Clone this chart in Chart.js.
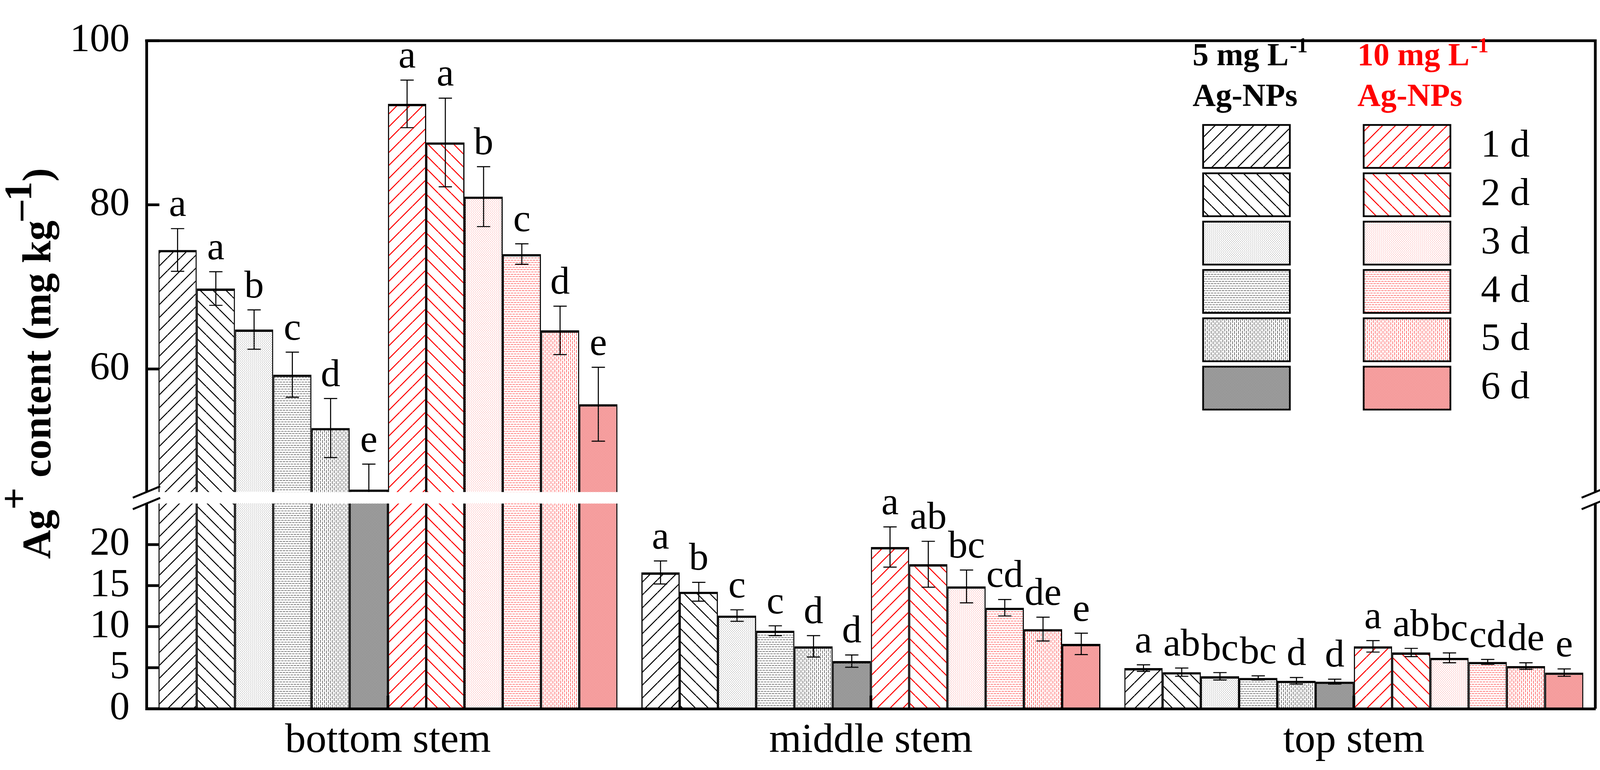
<!DOCTYPE html>
<html>
<head>
<meta charset="utf-8">
<script src="https://cdn.jsdelivr.net/npm/chart.js@4/dist/chart.umd.min.js"></script>
<style>
html,body{margin:0;padding:0;background:#fff;overflow:hidden}
canvas{display:block}
</style>
</head>
<body>
<canvas id="c" width="4099" height="1972"></canvas>
<script>
// ---------------- data ----------------
const categories = ['bottom stem', 'middle stem', 'top stem'];
const days = ['1 d', '2 d', '3 d', '4 d', '5 d', '6 d'];

// 5 mg L-1 Ag-NPs: one row per day, values for [bottom, middle, top]
const mean5mg = [
  [74.5, 16.6, 4.95],
  [69.8, 14.25, 4.45],
  [64.8, 11.35, 3.95],
  [59.3, 9.5, 3.75],
  [52.8, 7.6, 3.4],
  [45.3, 5.8, 3.3]
];
const err5mg = [
  [2.6, 1.4, 0.4],
  [2.05, 1.15, 0.5],
  [2.4, 0.7, 0.45],
  [2.75, 0.6, 0.25],
  [3.6, 1.3, 0.4],
  [3.1, 0.75, 0.3]
];
const sig5mg = [
  ['a', 'a', 'a'],
  ['a', 'b', 'ab'],
  ['b', 'c', 'bc'],
  ['c', 'c', 'bc'],
  ['d', 'd', 'd'],
  ['e', 'd', 'd']
];

// 10 mg L-1 Ag-NPs
const mean10mg = [
  [92.3, 19.7, 7.6],
  [87.6, 17.6, 6.85],
  [81.0, 14.9, 6.2],
  [74.0, 12.3, 5.7],
  [64.7, 9.7, 5.2],
  [55.7, 7.9, 4.4]
];
const err10mg = [
  [2.9, 2.45, 0.7],
  [5.4, 2.8, 0.5],
  [3.65, 2.0, 0.6],
  [1.25, 1.0, 0.3],
  [2.95, 1.45, 0.4],
  [4.5, 1.3, 0.45]
];
const sig10mg = [
  ['a', 'a', 'a'],
  ['a', 'ab', 'ab'],
  ['b', 'bc', 'bc'],
  ['c', 'cd', 'cd'],
  ['d', 'de', 'de'],
  ['e', 'e', 'e']
];

const yTicksUpper = [60, 80, 100];
const yTicksLower = [0, 5, 10, 15, 20];
const upperRange = [44.3, 100];
const lowerRange = [0, 25.7];
const breakRange = [25, 45];

const yTitleParts = ['Ag', '+', ' content (mg kg', '\u20131', ')'];
const legendHead5 = ['5 mg L', '-1', 'Ag-NPs'];
const legendHead10 = ['10 mg L', '-1', 'Ag-NPs'];

// ---------------- styles ----------------
const FONT = '"Liberation Serif", "Times New Roman", serif';
Chart.defaults.font.family = FONT;
const canvas = document.getElementById('c');
const ctx0 = canvas.getContext('2d');

function tile(w, h, painter) {
  const c = document.createElement('canvas');
  c.width = w; c.height = h;
  const g = c.getContext('2d');
  g.fillStyle = '#fff'; g.fillRect(0, 0, w, h);
  painter(g);
  return ctx0.createPattern(c, 'repeat');
}
function hatch(col, dir) {
  return tile(33, 33, g => {
    g.strokeStyle = col; g.lineWidth = 2.6;
    for (const k of [-33, 0, 33]) {
      g.beginPath();
      if (dir > 0) { g.moveTo(k, 33); g.lineTo(k + 33, 0); }
      else { g.moveTo(k, 0); g.lineTo(k + 33, 33); }
      g.stroke();
    }
  });
}
function dots(col) {
  return tile(5, 6, g => { g.fillStyle = col; g.fillRect(0, 0, 1, 1); g.fillRect(2, 3, 1, 1); });
}
function hdash(col) {
  return tile(8, 12, g => { g.fillStyle = col; g.fillRect(0, 0, 6, 1); g.fillRect(4, 6, 4, 1); g.fillRect(0, 6, 2, 1); });
}
function vdash(col) {
  return tile(10, 11, g => { g.fillStyle = col; g.fillRect(0, 0, 1, 8); g.fillRect(5, 5, 1, 6); g.fillRect(5, 0, 1, 2); });
}
function cross(col) {
  return tile(4, 4, g => {
    g.fillStyle = col;
    for (let i = 0; i < 4; i++) { g.fillRect(i, i, 1, 1); g.fillRect(i, 3 - i, 1, 1); }
  });
}
const blackPat = [hatch('#000', 1), hatch('#000', -1), dots('#000'), hdash('#000'), vdash('#000'), cross('#333')];
const redPat = [hatch('#ff0000', 1), hatch('#ff0000', -1), dots('#ff0000'), hdash('#ff0000'), vdash('#ff0000'), cross('rgb(235,60,60)')];

// ---------------- series ----------------
const series = [];
days.forEach((d, i) => series.push({ label: '5 mg L-1 ' + d, data: mean5mg[i], err: err5mg[i], sig: sig5mg[i], bg: blackPat[i] }));
days.forEach((d, i) => series.push({ label: '10 mg L-1 ' + d, data: mean10mg[i], err: err10mg[i], sig: sig10mg[i], bg: redPat[i] }));

const datasets = [];
for (const axis of ['yTop', 'yBot']) {
  series.forEach((s, k) => datasets.push({
    label: s.label,
    data: s.data,
    yAxisID: axis,
    stack: 's' + k,
    backgroundColor: s.bg,
    borderColor: '#000',
    borderWidth: { top: 6, left: 3, right: 3, bottom: 0 },
    borderSkipped: 'start',
    clip: 0,
    barPercentage: 1,
    categoryPercentage: 0.9504
  }));
}

// ---------------- decorations plugin ----------------
const decor = {
  id: 'decor',
  beforeDatasetsDraw(chart) {
    const { ctx, chartArea: a } = chart;
    ctx.save();
    ctx.strokeStyle = '#000'; ctx.lineWidth = 7; ctx.lineJoin = 'miter';
    ctx.beginPath();
    ctx.moveTo(a.left - 3.5, a.top);
    ctx.lineTo(a.right, a.top);
    ctx.lineTo(a.right, a.bottom);
    ctx.stroke();
    ctx.restore();
  },
  afterDatasetsDraw(chart) {
    const { ctx, chartArea: a, scales } = chart;
    const yTop = scales.yTop, yBot = scales.yBot, x = scales.x;
    ctx.save();
    // inward ticks
    ctx.strokeStyle = '#000'; ctx.lineWidth = 7; ctx.lineCap = 'butt';
    for (const [sc, vals] of [[yTop, yTicksUpper], [yBot, yTicksLower]]) {
      for (const v of vals) {
        const p = sc.getPixelForValue(v);
        ctx.beginPath(); ctx.moveTo(a.left, p); ctx.lineTo(a.left + 33, p); ctx.stroke();
      }
    }
    categories.forEach((c, j) => {
      const p = x.getPixelForValue(j);
      ctx.beginPath(); ctx.moveTo(p, a.bottom); ctx.lineTo(p, a.bottom - 34); ctx.stroke();
    });
    // error bars
    const labels = [];
    ctx.lineWidth = 2.7;
    series.forEach((s, k) => {
      const meta = chart.getDatasetMeta(k);
      s.data.forEach((v, j) => {
        const bar = meta.data[j];
        const e = s.err[j];
        const sc = (v + e) > lowerRange[1] ? yTop : yBot;
        const yHi = sc.getPixelForValue(v + e);
        let yLo = sc.getPixelForValue(v - e);
        let capLo = true;
        if (yLo > sc.bottom) { yLo = sc.bottom; capLo = false; }
        const bx = bar.x;
        ctx.beginPath();
        ctx.moveTo(bx, yHi); ctx.lineTo(bx, yLo);
        ctx.moveTo(bx - 17, yHi); ctx.lineTo(bx + 17, yHi);
        if (capLo) { ctx.moveTo(bx - 17, yLo); ctx.lineTo(bx + 17, yLo); }
        ctx.stroke();
        labels.push([s.sig[j], bx, yHi - 32]);
      });
    });
    // axis break band
    const y1 = yTop.getPixelForValue(breakRange[1]);
    const y2 = yBot.getPixelForValue(breakRange[0]);
    ctx.fillStyle = '#fff';
    ctx.fillRect(a.left - 4, y1, a.right - a.left + 8, y2 - y1);
    ctx.strokeStyle = '#000'; ctx.lineWidth = 5;
    for (const x0 of [a.left, a.right]) {
      for (const yy of [y1, y2]) {
        ctx.beginPath(); ctx.moveTo(x0 - 35, yy + 14.5); ctx.lineTo(x0 + 35, yy - 14.5); ctx.stroke();
      }
    }
    // significance letters
    ctx.fillStyle = '#000';
    ctx.font = '100px ' + FONT;
    ctx.textAlign = 'center'; ctx.textBaseline = 'alphabetic';
    for (const [t, lx, ly] of labels) ctx.fillText(t, lx, ly);
    ctx.restore();
  },
  afterDraw(chart) {
    const ctx = chart.ctx;
    ctx.save();
    // y axis title
    ctx.translate(129, 931);
    ctx.rotate(-Math.PI / 2);
    const fonts = ['bold 103px ' + FONT, 'bold 100px ' + FONT, 'bold 103px ' + FONT, 'bold 100px ' + FONT, 'bold 103px ' + FONT];
    const rises = [0, -60, 0, -49, 0];
    let total = 0;
    yTitleParts.forEach((t, i) => { ctx.font = fonts[i]; total += ctx.measureText(t).width; });
    let tx = -total / 2;
    ctx.fillStyle = '#000'; ctx.textAlign = 'left'; ctx.textBaseline = 'alphabetic';
    yTitleParts.forEach((t, i) => { ctx.font = fonts[i]; ctx.fillText(t, tx, rises[i]); tx += ctx.measureText(t).width; });
    ctx.restore();

    // legend
    ctx.save();
    const cols = [
      { head: legendHead5, hx: 3053, bx: 3080, color: '#000', pats: blackPat },
      { head: legendHead10, hx: 3475, bx: 3491, color: '#ff0000', pats: redPat }
    ];
    ctx.textAlign = 'left'; ctx.textBaseline = 'alphabetic';
    for (const c of cols) {
      ctx.fillStyle = c.color;
      ctx.font = 'bold 82px ' + FONT;
      ctx.fillText(c.head[0], c.hx, 167);
      const w = ctx.measureText(c.head[0]).width;
      ctx.fillText(c.head[2], c.hx, 271);
      ctx.font = 'bold 55px ' + FONT;
      ctx.fillText(c.head[1], c.hx + w + 3, 134);
      days.forEach((d, i) => {
        const top = 320 + i * 123.8;
        ctx.fillStyle = c.pats[i];
        ctx.fillRect(c.bx, top, 222, 110);
        ctx.strokeStyle = '#000'; ctx.lineWidth = 4.5;
        ctx.strokeRect(c.bx, top, 222, 110);
      });
    }
    ctx.fillStyle = '#000';
    ctx.font = '100px ' + FONT;
    ctx.textBaseline = 'middle';
    days.forEach((d, i) => ctx.fillText(d, 3791, 320 + i * 123.8 + 55));
    ctx.restore();
  }
};

// ---------------- chart ----------------
const tickFont = { family: FONT, size: 102 };
new Chart(canvas, {
  type: 'bar',
  data: { labels: categories, datasets },
  options: {
    responsive: false,
    devicePixelRatio: 1,
    animation: false,
    layout: { padding: { left: 0, right: 15, top: 47, bottom: 0 } },
    plugins: { legend: { display: false }, tooltip: { enabled: false }, title: { display: false } },
    scales: {
      x: {
        type: 'category',
        position: 'bottom',
        grid: { display: false, drawTicks: false },
        border: { display: true, width: 7, color: '#000', z: 1 },
        ticks: { color: '#000', font: { family: FONT, size: 106 }, padding: 20, maxRotation: 0, autoSkip: false },
        afterFit(s) { s.height = 157; }
      },
      yBot: {
        type: 'linear', position: 'left', stack: 'y', stackWeight: lowerRange[1] - lowerRange[0], weight: 1,
        min: lowerRange[0], max: lowerRange[1], stacked: false,
        grid: { display: false, drawTicks: false },
        border: { display: true, width: 7, color: '#000' },
        ticks: { color: '#000', font: tickFont, padding: 43, autoSkip: false },
        afterBuildTicks(s) { s.ticks = yTicksLower.map(v => ({ value: v })); },
        afterFit(s) { s.width = 375; }
      },
      yTop: {
        type: 'linear', position: 'left', stack: 'y', stackWeight: upperRange[1] - upperRange[0], weight: 2,
        min: upperRange[0], max: upperRange[1], stacked: false,
        grid: { display: false, drawTicks: false },
        border: { display: true, width: 7, color: '#000' },
        ticks: { color: '#000', font: tickFont, padding: 43, autoSkip: false },
        afterBuildTicks(s) { s.ticks = yTicksUpper.map(v => ({ value: v })); },
        afterFit(s) { s.width = 375; }
      }
    }
  },
  plugins: [decor]
});
</script>
</body>
</html>
